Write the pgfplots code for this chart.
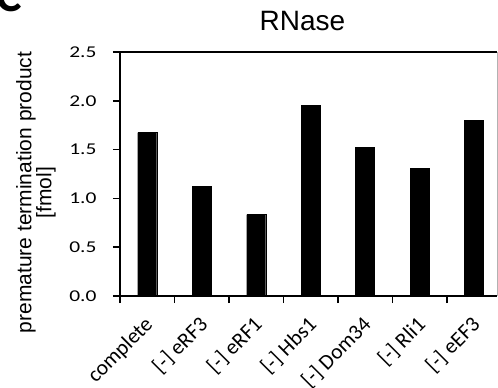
\documentclass[border=0pt]{standalone}
\usepackage{fontspec}
\setmainfont{Carlito}
\newfontfamily\arial{Liberation Sans}
\newfontfamily\wide[FakeStretch=1.3]{Carlito}
\usepackage{pgfplots}
\pgfplotsset{compat=1.18}
\begin{document}
\begin{tikzpicture}
\begin{axis}[
  name=ax,
  scale only axis,
  width=377bp, height=244bp,
  xmin=-0.5, xmax=6.42,
  ymin=0, ymax=2.5,
  ytick={0,0.5,1.0,1.5,2.0,2.5},
  yticklabel style={/pgf/number format/fixed,/pgf/number format/fixed zerofill,/pgf/number format/precision=1, font=\wide\fontsize{16.5bp}{18bp}\selectfont, xshift=-13bp},
  /pgf/number format/assume math mode=true,
  xtick={-0.5,0.5,1.5,2.5,3.5,4.5,5.5},
  xticklabels={},
  extra x ticks={0,1,2,3,4,5,6},
  extra x tick labels={complete,{[-] eRF3},{[-] eRF1},{[-] Hbs1},{[-] Dom34},{[-] Rli1},{[-] eEF3}},
  extra x tick style={major tick length=0pt, ticklabel style={xshift=-4bp, yshift=-19bp, rotate=45, anchor=north east, inner sep=0pt, font=\fontsize{21.5bp}{23bp}\selectfont}},
  tick align=outside,
  major tick length=7bp,
  tick style={line width=1.5bp, black},
  axis line style={line width=1.5bp},
  separate axis lines,
  axis x line*=bottom,
  axis y line*=left,
  ybar, bar width=19bp,
  title={\arial\fontsize{28bp}{30bp}\selectfont RNase},
  title style={at={(axis description cs:0.484,1)}, anchor=base, yshift=16bp, inner sep=0pt},
  ylabel={premature termination product\\{}[fmol]},
  ylabel style={at={(axis description cs:-0.223,0.424)}, anchor=center, align=center, font=\arial\fontsize{21bp}{20bp}\selectfont},
  clip=false,
]
\addplot[fill=black, draw=black] coordinates {(0,1.674) (1,1.124) (2,0.834) (3,1.951) (4,1.52) (5,1.31) (6,1.797)};
\draw[line width=1.5bp] (axis cs:-0.5,2.5) -- (axis cs:6.42,2.5);
\draw[line width=0.6bp, gray!60] (axis cs:6.42,0) -- (axis cs:6.42,2.5);
\end{axis}
\node[anchor=base east, font=\bfseries\fontsize{48bp}{48bp}\selectfont, inner sep=0pt] at ([xshift=-98bp, yshift=40bp]ax.north west) {C};
\pgfresetboundingbox
\path[use as bounding box] ([xshift=-120bp,yshift=-92bp]ax.south west) rectangle ([xshift=1bp,yshift=52bp]ax.north east);
\end{tikzpicture}
\end{document}
